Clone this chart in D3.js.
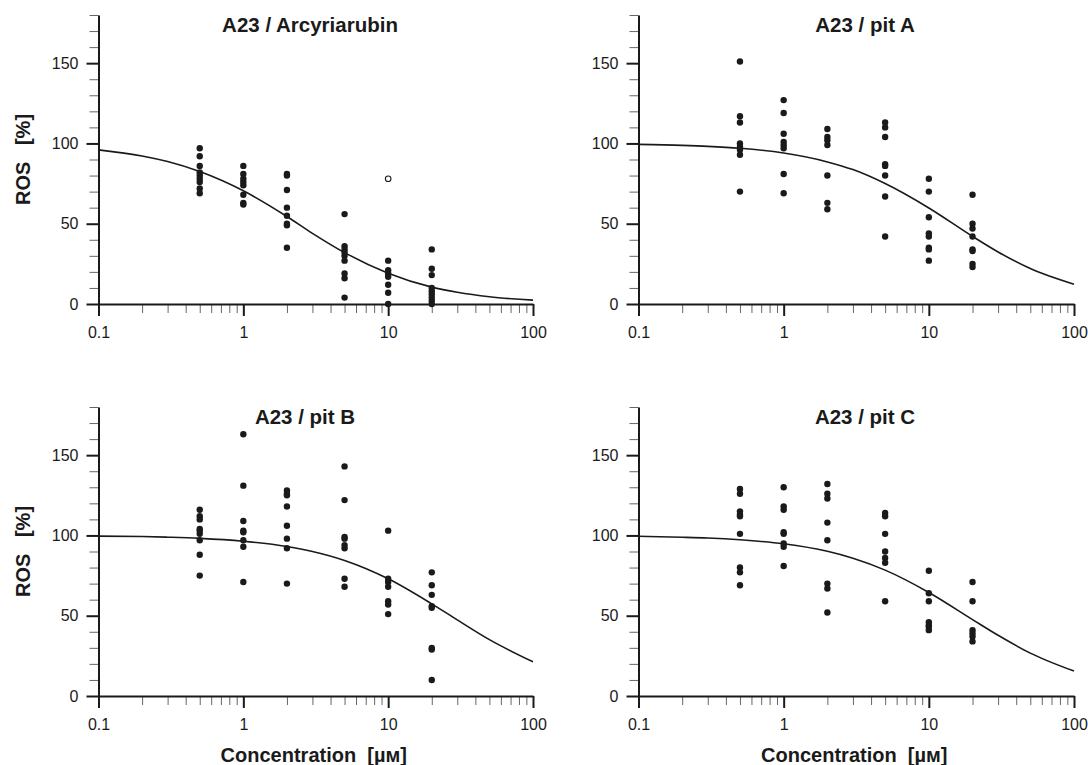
<!DOCTYPE html>
<html lang="en">
<head>
  <meta charset="UTF-8">
  <title>ROS vs concentration</title>
  <script src="https://d3js.org/d3.v7.min.js"></script>
  <style>
    body { margin: 0; background: #fff; }
    svg { display: block; font-family: 'Liberation Sans', Arial, sans-serif; }
    .title { font-size: 20.5px; font-weight: bold; fill: #1a1a1a; }
    .axis-title { font-size: 20px; font-weight: bold; fill: #1a1a1a; white-space: pre; }
  </style>
</head>
<body>
  <div id="chart"></div>

  <script>
    // doses where the cells were measured [µM]
    const doses = [0.5, 1, 2, 5, 10, 20];

    // measured ROS [%] per dose (one inner array per dose)
    const arcyriarubinPts = [
      [97, 92, 86, 82, 80, 78, 76, 72, 69],
      [86, 81, 78, 76, 74, 68, 63, 62],
      [81, 80, 71, 60, 55, 50, 49, 35],
      [56, 36, 34, 32, 30, 27, 19, 16, 4],
      [27, 21, 19, 17, 12, 7, 0],
      [34, 22, 18, 10, 8, 6, 4, 2, 0]
    ];
    // the one open (excluded) point: [dose, value]
    const arcyriarubinOutliers = [[10, 78]];

    const pitAPts = [
      [151, 117, 113, 100, 98, 96, 93, 70],
      [127, 119, 106, 101, 99, 97, 81, 69],
      [109, 104, 102, 99, 80, 63, 59],
      [113, 110, 104, 87, 86, 80, 67, 42],
      [78, 70, 54, 44, 42, 35, 34, 27],
      [68, 50, 47, 42, 34, 33, 25, 23]
    ];

    const pitBPts = [
      [116, 112, 110, 104, 103, 101, 97, 88, 75],
      [163, 131, 109, 103, 102, 97, 93, 71],
      [128, 126, 125, 118, 106, 98, 92, 70],
      [143, 122, 99, 98, 94, 92, 73, 68],
      [103, 73, 71, 68, 59, 57, 51],
      [77, 69, 63, 56, 55, 30, 29, 10]
    ];

    const pitCPts = [
      [129, 126, 115, 113, 112, 101, 80, 77, 69],
      [130, 118, 116, 102, 101, 95, 93, 81],
      [132, 126, 123, 108, 97, 70, 67, 52],
      [114, 112, 101, 90, 86, 83, 59],
      [78, 64, 59, 46, 44, 43, 41],
      [71, 59, 41, 39, 37, 34]
    ];

    // fitted curves at these doses
    const fitDoses = [0.1, 0.2, 0.3, 0.5, 1, 2, 3, 5, 10, 20, 30, 50, 100];
    const fitArcyriarubin = [96, 92.2, 88.7, 82.5, 70.5, 54.5, 44, 32, 19.2, 10.5, 7.3, 4.5, 2.4];
    const fitPitA = [99.4, 98.8, 98.2, 97, 94, 88.5, 83.7, 75, 59.8, 42.1, 32.4, 22.1, 12.3];
    const fitPitB = [99.6, 99.3, 98.9, 98.2, 96.4, 93.1, 90, 84.4, 73, 57.4, 47.4, 35.1, 21.3];
    const fitPitC = [99.5, 98.9, 98.4, 97.3, 94.8, 90.1, 85.8, 78.4, 64.5, 47.6, 37.8, 26.7, 15.5];

    const xMajor = [0.1, 1, 10, 100];
    const xMinor = [0.2, 0.3, 0.4, 0.5, 0.6, 0.7, 0.8, 0.9, 2, 3, 4, 5, 6, 7, 8, 9, 20, 30, 40, 50, 60, 70, 80, 90];
    const yMajor = [0, 50, 100, 150];
    const yMinor = [10, 20, 30, 40, 60, 70, 80, 90, 110, 120, 130, 140, 160, 170, 180];

    const panels = [
      { title: "A23 / Arcyriarubin", pts: arcyriarubinPts, open: arcyriarubinOutliers, fit: fitArcyriarubin,
        x0: 98.5, x1: 533, y0: 304, y1: 15, titleX: 310, ylab: true, xlab: false },
      { title: "A23 / pit A", pts: pitAPts, open: [], fit: fitPitA,
        x0: 638.5, x1: 1074, y0: 304, y1: 15, titleX: 865, ylab: false, xlab: false },
      { title: "A23 / pit B", pts: pitBPts, open: [], fit: fitPitB,
        x0: 98.5, x1: 533, y0: 696, y1: 407, titleX: 305, ylab: true, xlab: true },
      { title: "A23 / pit C", pts: pitCPts, open: [], fit: fitPitC,
        x0: 638.5, x1: 1074, y0: 696, y1: 407, titleX: 865, ylab: false, xlab: true }
    ];

    const ink = "#1a1a1a";

    const svg = d3.select("#chart")
      .append("svg")
      .attr("width", 1088)
      .attr("height", 765);

    const styleLabels = a => a
      .attr("font-family", "'Liberation Sans', Arial, sans-serif")
      .attr("font-size", 16)
      .call(s => s.selectAll(".tick text").attr("fill", ink));

    panels.forEach(p => {
      const x = d3.scaleLog().domain([0.1, 100]).range([p.x0, p.x1]);
      const y = d3.scaleLinear().domain([0, 180]).range([p.y0, p.y1]);
      const g = svg.append("g");

      // minor ticks first, majors + axis line on top
      g.append("g")
        .attr("transform", `translate(0,${p.y0})`)
        .call(d3.axisBottom(x).tickValues(xMinor).tickSize(9).tickSizeOuter(0).tickFormat(""))
        .call(a => a.select(".domain").remove())
        .call(a => a.selectAll(".tick line").attr("stroke", "#666").attr("stroke-width", 1));

      g.append("g")
        .attr("transform", `translate(${p.x0},0)`)
        .call(d3.axisLeft(y).tickValues(yMinor).tickSize(9).tickSizeOuter(0).tickFormat(""))
        .call(a => a.select(".domain").remove())
        .call(a => a.selectAll(".tick line").attr("stroke", "#666").attr("stroke-width", 1));

      g.append("g")
        .attr("transform", `translate(0,${p.y0})`)
        .call(d3.axisBottom(x).tickValues(xMajor).tickSize(12).tickSizeOuter(0).tickPadding(11)
          .tickFormat(d => d3.format("")(d)))
        .call(styleLabels)
        .call(a => a.select(".domain").attr("stroke", ink).attr("stroke-width", 2))
        .call(a => a.selectAll(".tick line").attr("stroke", ink).attr("stroke-width", 2));

      g.append("g")
        .attr("transform", `translate(${p.x0},0)`)
        .call(d3.axisLeft(y).tickValues(yMajor).tickSize(12).tickSizeOuter(0).tickPadding(8))
        .call(styleLabels)
        .call(a => a.select(".domain").attr("stroke", ink).attr("stroke-width", 2))
        .call(a => a.selectAll(".tick line").attr("stroke", ink).attr("stroke-width", 2));

      // fitted curve
      const line = d3.line()
        .x((d, i) => x(fitDoses[i]))
        .y(d => y(d))
        .curve(d3.curveMonotoneX);

      g.append("path")
        .datum(p.fit)
        .attr("fill", "none")
        .attr("stroke", ink)
        .attr("stroke-width", 1.6)
        .attr("d", line);

      // measured points
      const flat = p.pts.flatMap((vals, i) => vals.map(v => ({ dose: doses[i], v })));
      g.selectAll("circle.pt")
        .data(flat)
        .enter()
        .append("circle")
        .attr("class", "pt")
        .attr("cx", d => x(d.dose))
        .attr("cy", d => y(d.v))
        .attr("r", 3.2)
        .attr("fill", ink);

      g.selectAll("circle.open")
        .data(p.open)
        .enter()
        .append("circle")
        .attr("class", "open")
        .attr("cx", d => x(d[0]))
        .attr("cy", d => y(d[1]))
        .attr("r", 2.8)
        .attr("fill", "#fff")
        .attr("stroke", ink)
        .attr("stroke-width", 1.1);

      g.append("text")
        .attr("class", "title")
        .attr("x", p.titleX)
        .attr("y", p.y1 + 17)
        .attr("text-anchor", "middle")
        .text(p.title);

      if (p.ylab) {
        g.append("text")
          .attr("class", "axis-title")
          .attr("transform", `translate(30,${(p.y0 + p.y1) / 2}) rotate(-90)`)
          .attr("text-anchor", "middle")
          .text("ROS   [%]");
      }
      if (p.xlab) {
        g.append("text")
          .attr("class", "axis-title")
          .attr("x", (p.x0 + p.x1) / 2 - 2)
          .attr("y", 761.5)
          .attr("text-anchor", "middle")
          .text("Concentration  [µм]");
      }
    });
  </script>
</body>
</html>
